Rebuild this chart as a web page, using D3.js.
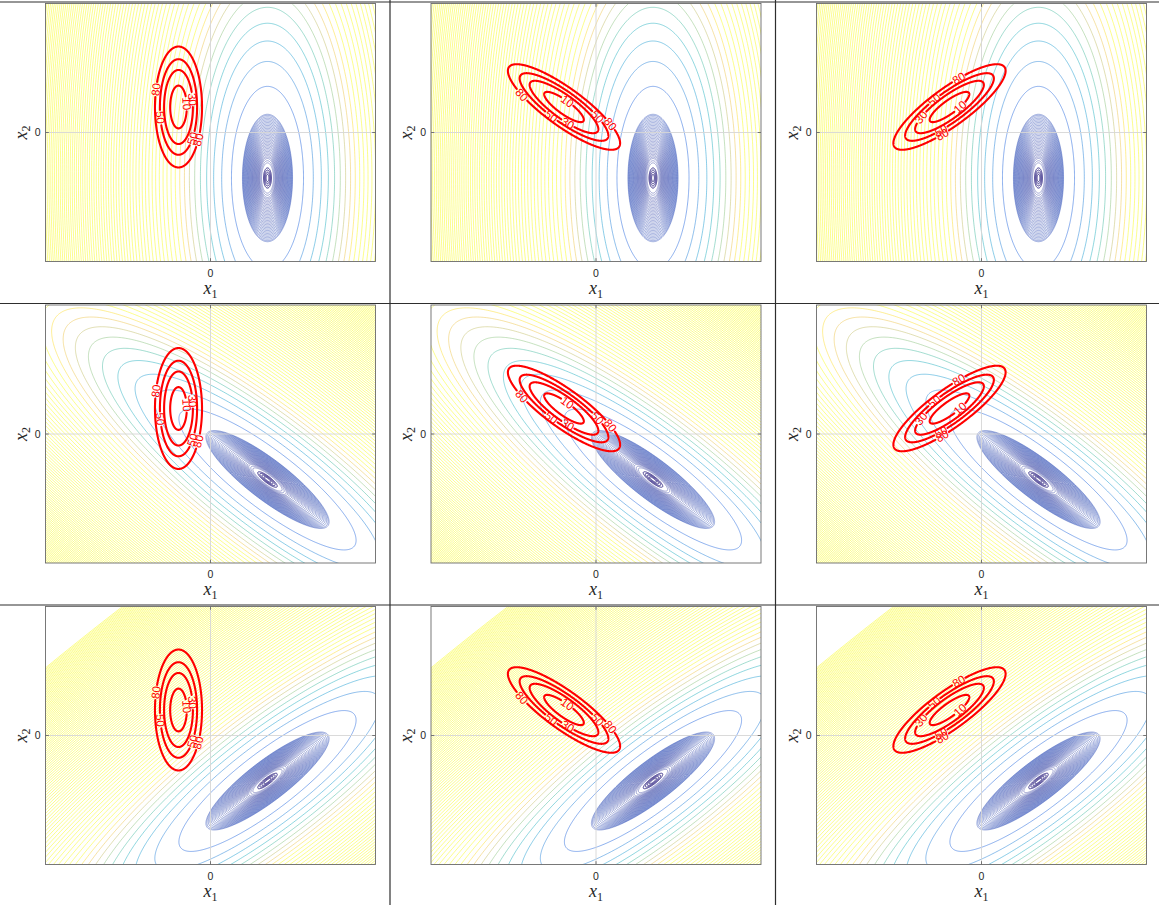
<!DOCTYPE html>
<html>
<head>
<meta charset="utf-8">
<script src="https://cdn.jsdelivr.net/npm/d3@7"></script>
<style>
  html, body { margin: 0; padding: 0; background: #ffffff; }
  svg { display: block; }
</style>
</head>
<body>
<svg id="chart" width="1159" height="905"></svg>
<script>
// ---------------------------------------------------------------
// Quadratic-form contour grid: rows vary the background field,
// columns vary the red (labelled) field.
// ---------------------------------------------------------------

// Background field (one per row): centre, std devs along its axes, axis angle (deg)
const bgMean = [1.14, -0.91];
const bgSigmaMajor = [1.44, 1.72, 1.72];
const bgSigmaMinor = [0.566, 0.452, 0.452];
const bgAngle = [90, -37.5, 37.5];

// Inner (dense, dark) levels of the background, as Mahalanobis radii
const bgCoreRho = [0.05, 0.08, 0.11, 0.14];
const bgInnerRho = [0.21, 0.24, 0.27, 0.29, 0.31, 0.33, 0.35, 0.37, 0.39, 0.41,
                    0.43, 0.45, 0.47, 0.49, 0.51, 0.53, 0.55, 0.57, 0.59, 0.61,
                    0.63, 0.65, 0.67, 0.69, 0.71, 0.73, 0.75, 0.77, 0.79, 0.81,
                    0.83, 0.85, 0.87, 0.885];
// Outer levels of the background (squared Mahalanobis distance)
const bgOuterStart = 1.62;
const bgOuterStep = 1;
const bgOuterCount = 100;

// Red field (one per column)
const redMean = [-0.64, 0.51];
const redSigmaMajor = [0.676, 0.76, 0.76];
const redSigmaMinor = [0.263, 0.212, 0.212];
const redAngle = [90, -36, 36];
const redLevels = [10, 30, 50, 80];
const redScale = 25;            // level = redScale * squared Mahalanobis distance

// Axis ticks
const tickValues = [0];
const xLabel = "x", xSub = "1";
const yLabel = "x", ySub = "2";

// Label placement on the red rings: direction (deg) from the centre, per column
const redLabelDirs = [
  [{ level: 80, dir: 142 }, { level: 50, dir: 210 }, { level: 10, dir: 22 },
   { level: 30, dir: 28 }, { level: 50, dir: -66 }, { level: 80, dir: -59 }],
  [{ level: 80, dir: 164 }, { level: 10, dir: 60 }, { level: 50, dir: 216 },
   { level: 30, dir: -77 }, { level: 80, dir: -20 }, { level: 50, dir: -16 }],
  [{ level: 80, dir: 72 }, { level: 50, dir: 155 }, { level: 30, dir: 200 },
   { level: 10, dir: 0 }, { level: 80, dir: 255 }, { level: 50, dir: 250 }]
];

// ---------------------------------------------------------------
// Layout
// ---------------------------------------------------------------
const colLeft = [45.5, 431, 816.5];
const rowTop = [3.5, 305, 606.5];
const plotW = 330, plotH = 258;
const xDomain = [-3.3, 3.3], yDomain = [-2.58, 2.58];

const parulaStops = ["#352a87", "#0f5cdd", "#1481d6", "#06a4ca", "#2eb7a4",
                     "#87bf77", "#d1bb59", "#fec832", "#f9fb0e"];
const parula = d3.scaleLinear()
  .domain(parulaStops.map((_, i) => i / (parulaStops.length - 1)))
  .range(parulaStops)
  .interpolate(d3.interpolateRgb)
  .clamp(true);

const svg = d3.select("#chart");

// cell separators
const sep = svg.append("g").attr("stroke", "#2e2e2e").attr("stroke-width", 1.2);
[2, 303.5, 605].forEach(yy => sep.append("line").attr("x1", 0).attr("x2", 1159).attr("y1", yy).attr("y2", yy));
[390, 775.5].forEach(xx => sep.append("line").attr("x1", xx).attr("x2", xx).attr("y1", 0).attr("y2", 905));

// points on the ellipse {d : d' S^-1 d = rho^2}
function ellipsePoints(mean, sMaj, sMin, angDeg, rho, n) {
  const a = angDeg * Math.PI / 180, ca = Math.cos(a), sa = Math.sin(a);
  const pts = [];
  for (let i = 0; i <= n; i++) {
    const t = 2 * Math.PI * i / n;
    const u = rho * sMaj * Math.cos(t), v = rho * sMin * Math.sin(t);
    pts.push([mean[0] + u * ca - v * sa, mean[1] + u * sa + v * ca]);
  }
  return pts;
}
// squared Mahalanobis distance of offset (dx, dy)
function mahal2(dx, dy, sMaj, sMin, angDeg) {
  const a = angDeg * Math.PI / 180, ca = Math.cos(a), sa = Math.sin(a);
  const u = dx * ca + dy * sa, v = -dx * sa + dy * ca;
  return (u * u) / (sMaj * sMaj) + (v * v) / (sMin * sMin);
}

const outerLevels = d3.range(bgOuterCount).map(k => bgOuterStart + k * bgOuterStep);

for (let r = 0; r < 3; r++) {
  for (let c = 0; c < 3; c++) {
    const left = colLeft[c], top = rowTop[r];
    const x = d3.scaleLinear().domain(xDomain).range([left, left + plotW]);
    const y = d3.scaleLinear().domain(yDomain).range([top + plotH, top]);
    const line = d3.line().x(d => x(d[0])).y(d => y(d[1]));
    const id = `clip-${r}-${c}`;
    svg.append("clipPath").attr("id", id)
      .append("rect").attr("x", left).attr("y", top).attr("width", plotW).attr("height", plotH);
    const panel = svg.append("g");
    const plot = panel.append("g").attr("clip-path", `url(#${id})`);

    // background: outer levels
    const outer = plot.append("g").attr("fill", "none").attr("stroke-width", 0.6).attr("stroke-opacity", 0.8);
    outerLevels.forEach(L => {
      outer.append("path")
        .attr("d", line(ellipsePoints(bgMean, bgSigmaMajor[r], bgSigmaMinor[r], bgAngle[r], Math.sqrt(L), 480)))
        .attr("stroke", parula((L - 0.4) / 10));
    });
    // background: inner dense levels
    const inner = plot.append("g").attr("fill", "none");
    bgInnerRho.forEach(rho => {
      inner.append("path")
        .attr("d", line(ellipsePoints(bgMean, bgSigmaMajor[r], bgSigmaMinor[r], bgAngle[r], rho, 240)))
        .attr("stroke", parula(0.02 + rho * 0.05))
        .attr("stroke-width", 0.55)
        .attr("stroke-opacity", 0.78);
    });
    bgCoreRho.forEach(rho => {
      inner.append("path")
        .attr("d", line(ellipsePoints(bgMean, bgSigmaMajor[r], bgSigmaMinor[r], bgAngle[r], rho, 120)))
        .attr("stroke", parula(0))
        .attr("stroke-width", 1);
    });

    // grid at zero
    const grid = plot.append("g").attr("stroke", "#d6d6d6").attr("stroke-width", 0.9);
    tickValues.forEach(t => {
      grid.append("line").attr("x1", x(t)).attr("x2", x(t)).attr("y1", top).attr("y2", top + plotH);
      grid.append("line").attr("x1", left).attr("x2", left + plotW).attr("y1", y(t)).attr("y2", y(t));
    });

    // red labelled contours
    const sMaj = redSigmaMajor[c], sMin = redSigmaMinor[c], ang = redAngle[c];
    const labels = redLabelDirs[c].map(lb => {
      const th = lb.dir * Math.PI / 180;
      const q = mahal2(Math.cos(th), Math.sin(th), sMaj, sMin, ang);
      const rad = Math.sqrt(lb.level / redScale / q);
      const px = redMean[0] + rad * Math.cos(th), py = redMean[1] + rad * Math.sin(th);
      // tangent from the gradient of the quadratic form
      const a = ang * Math.PI / 180, ca = Math.cos(a), sa = Math.sin(a);
      const dx = px - redMean[0], dy = py - redMean[1];
      const u = dx * ca + dy * sa, v = -dx * sa + dy * ca;
      const gu = u / (sMaj * sMaj), gv = v / (sMin * sMin);
      const gx = gu * ca - gv * sa, gy = gu * sa + gv * ca;
      // data tangent (gy, -gx) seen on screen (y downward) is (gy, gx)
      let rot = Math.atan2(gx, gy) * 180 / Math.PI;
      if (rot > 90) rot -= 180;
      if (rot < -90) rot += 180;
      return { level: lb.level, sx: x(px), sy: y(py), rot };
    });

    const red = plot.append("g").attr("fill", "none").attr("stroke", "#ff0000")
      .attr("stroke-width", 2.1).attr("stroke-linejoin", "round").attr("stroke-linecap", "round");
    const gapR = 7.5;
    redLevels.forEach(L => {
      const pts = ellipsePoints(redMean, sMaj, sMin, ang, Math.sqrt(L / redScale), 720);
      const mine = labels.filter(lb => lb.level === L);
      const segs = [];
      let cur = [];
      pts.forEach(p => {
        const sx = x(p[0]), sy = y(p[1]);
        const hidden = mine.some(lb => Math.hypot(sx - lb.sx, sy - lb.sy) < gapR);
        if (hidden) { if (cur.length > 1) segs.push(cur); cur = []; }
        else cur.push(p);
      });
      if (cur.length > 1) segs.push(cur);
      // join the segment that wraps around the start of the ring
      if (segs.length > 1 && !mine.some(lb => Math.hypot(x(pts[0][0]) - lb.sx, y(pts[0][1]) - lb.sy) < gapR)) {
        const last = segs.pop();
        segs[0] = last.concat(segs[0]);
      }
      segs.forEach(s => red.append("path").attr("d", line(s)));
    });
    const lab = plot.append("g").attr("fill", "#ff0000")
      .attr("font-family", "Liberation Sans, Arial, sans-serif").attr("font-size", 11.5);
    labels.forEach(lb => {
      lab.append("text")
        .attr("transform", `translate(${lb.sx},${lb.sy}) rotate(${lb.rot})`)
        .attr("text-anchor", "middle").attr("dominant-baseline", "central")
        .text(lb.level);
    });

    // axes box and ticks
    const axc = "#6a6a6a";
    panel.append("rect").attr("x", left).attr("y", top).attr("width", plotW).attr("height", plotH)
      .attr("fill", "none").attr("stroke", axc).attr("stroke-width", 0.9);
    const tk = panel.append("g").attr("stroke", axc).attr("stroke-width", 0.9);
    tickValues.forEach(t => {
      tk.append("line").attr("x1", x(t)).attr("x2", x(t)).attr("y1", top + plotH).attr("y2", top + plotH - 3.3);
      tk.append("line").attr("x1", x(t)).attr("x2", x(t)).attr("y1", top).attr("y2", top + 3.3);
      tk.append("line").attr("x1", left).attr("x2", left + 3.3).attr("y1", y(t)).attr("y2", y(t));
      tk.append("line").attr("x1", left + plotW).attr("x2", left + plotW - 3.3).attr("y1", y(t)).attr("y2", y(t));
    });
    const tl = panel.append("g").attr("fill", "#262626")
      .attr("font-family", "Liberation Sans, Arial, sans-serif").attr("font-size", 10.5);
    tickValues.forEach(t => {
      tl.append("text").attr("x", x(t)).attr("y", top + plotH + 15).attr("text-anchor", "middle").text(t);
      tl.append("text").attr("x", left - 5).attr("y", y(t) + 3.8).attr("text-anchor", "end").text(t);
    });

    // axis titles (italic with subscripts)
    const xt = panel.append("text").attr("x", x(0)).attr("y", top + plotH + 32)
      .attr("text-anchor", "middle").attr("fill", "#262626")
      .attr("font-family", "Liberation Serif, Times New Roman, serif").attr("font-size", 18);
    xt.append("tspan").attr("font-style", "italic").text(xLabel);
    xt.append("tspan").attr("font-size", 12).attr("dy", 4).text(xSub);

    const yt = panel.append("text")
      .attr("transform", `translate(${left - 19},${y(0)}) rotate(-90)`)
      .attr("text-anchor", "middle").attr("fill", "#262626")
      .attr("font-family", "Liberation Serif, Times New Roman, serif").attr("font-size", 18);
    yt.append("tspan").attr("font-style", "italic").text(yLabel);
    yt.append("tspan").attr("font-size", 12).attr("dy", 3).text(ySub);
  }
}
</script>
</body>
</html>
